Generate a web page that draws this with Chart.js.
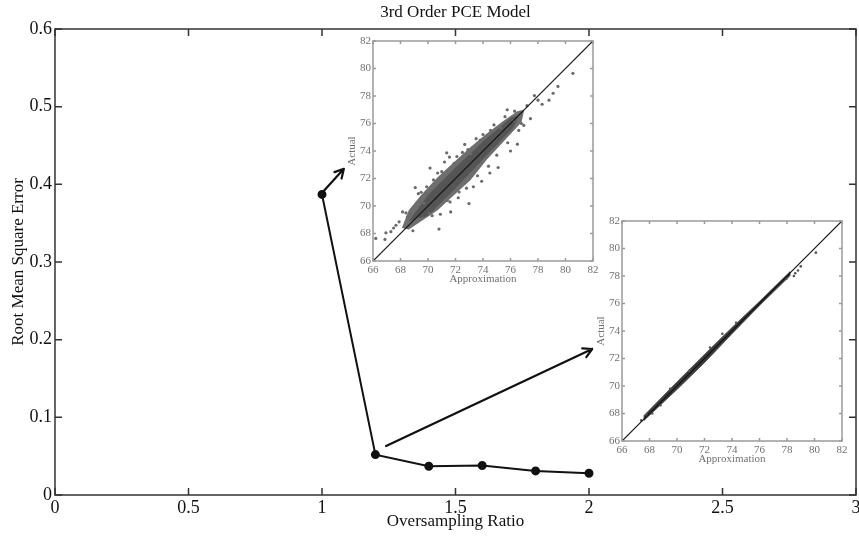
<!DOCTYPE html>
<html>
<head>
<meta charset="utf-8">
<script src="https://cdn.jsdelivr.net/npm/chart.js@4/dist/chart.umd.min.js"></script>
<style>
  html, body { margin: 0; padding: 0; background: #fff; }
  #wrap { position: relative; width: 859px; height: 537px; }
  canvas { position: absolute; }
  #main { left: 0; top: 0; }
  #inset1 { left: 340px; top: 35px; }
  #inset2 { left: 589px; top: 215px; }
</style>
</head>
<body>
<div id="wrap">
  <canvas id="main" width="859" height="537"></canvas>
  <canvas id="inset1" width="262" height="252"></canvas>
  <canvas id="inset2" width="262" height="252"></canvas>
</div>
<script>
// main curve
const ratio = [1, 1.2, 1.4, 1.6, 1.8, 2];
const rmse = [0.387, 0.052, 0.037, 0.038, 0.031, 0.028];
const ratioTicks = [0, 0.5, 1, 1.5, 2, 2.5, 3];
const rmseTicks = [0, 0.1, 0.2, 0.3, 0.4, 0.5, 0.6];

// arrows pointing at the insets (main chart data coords)
const arrowFrom = [[1.003, 0.39], [1.24, 0.063]];
const arrowTo = [[1.082, 0.42], [2.012, 0.188]];

// insets share the same axes
const insetTicks = [66, 68, 70, 72, 74, 76, 78, 80, 82];
const diagonal = [66, 82];

// inset 1 (low oversampling): cloud outline, dense core, loose points
const cloudX = [68.1, 68.6, 69.5, 70.7, 71.9, 73.1, 74.3, 75.5, 76.5, 77.0, 76.8, 75.5, 74.3, 73.1, 71.9, 70.7, 69.5, 68.6, 68.1];
const cloudY = [68.4, 69.7, 70.8, 72.1, 73.2, 74.3, 75.3, 76.2, 76.9, 77.0, 76.1, 74.7, 73.4, 71.9, 70.8, 69.7, 68.9, 68.3, 68.4];
const coreX = [68.6, 70, 72, 74, 76, 76.6, 76.2, 74, 72, 70, 68.6];
const coreY = [68.9, 70.8, 72.8, 74.7, 76.4, 76.6, 75.7, 73.4, 71.3, 69.3, 68.9];
const looseX = [69.07, 69.5, 70.15, 71.36, 71.56, 72.67, 72.9, 75.76, 77.74, 78.3, 78.8, 79.1, 79.45, 80.54, 77.45, 76.97, 76.6,
  72.98, 72.26, 71.65, 70.8, 70.08, 69.24, 68.15, 67.67, 67.3, 66.94, 66.87, 66.2, 67.9, 68.75, 69.7, 71.4, 73.3, 73.9,
  74.5, 75.1, 76.0, 76.5, 70.7, 71.9, 73.1, 73.8, 74.55, 75.3, 76.2, 78.0, 77.2, 68.5, 69.9,
  69.3, 69.9, 70.4, 71.0, 71.2, 72.1, 72.5, 73.5, 74.0, 74.8, 75.6, 76.3, 68.9, 70.3, 70.9, 71.6, 72.2, 72.8, 73.6, 74.4,
  75.0, 75.8, 76.8, 67.5, 68.4];
const looseY = [71.34, 71.0, 72.76, 73.87, 73.56, 74.48, 74.1, 77.0, 78.03, 77.4, 77.7, 78.2, 78.7, 79.65, 76.35, 75.86, 75.5,
  70.18, 71.02, 69.57, 68.32, 69.45, 69.09, 69.57, 68.6, 68.13, 68.05, 67.57, 67.64, 68.85, 69.45, 70.2, 70.4, 71.4, 71.8,
  72.4, 72.8, 74.0, 74.5, 72.4, 73.1, 73.8, 74.8, 75.5, 75.7, 76.2, 77.7, 77.3, 69.2, 70.9,
  70.9, 71.4, 71.9, 72.5, 73.2, 73.6, 73.9, 74.9, 75.2, 75.9, 76.5, 76.9, 68.2, 69.3, 69.4, 70.3, 70.6, 71.3, 72.2, 72.9,
  73.7, 74.6, 76.0, 68.4, 69.5];

// inset 2 (high oversampling): thin band along the diagonal, few strays
const bandX = [67.6, 70, 72, 74, 76, 78.2, 78.2, 76, 74, 72, 70, 67.6, 67.6];
const bandY = [67.85, 70.3, 72.3, 74.25, 76.15, 78.3, 78.0, 75.85, 73.8, 71.7, 69.75, 67.5, 67.85];
const strayX = [80.1, 78.8, 78.6, 78.5, 77.95, 74.3, 67.8, 67.4, 68.2, 72.4, 73.3, 70.9, 69.5, 68.8, 79.0];
const strayY = [79.7, 78.4, 78.2, 78.0, 77.8, 74.6, 67.9, 67.5, 68.0, 72.8, 73.8, 71.1, 69.8, 68.6, 78.7];

const serif = "'Liberation Serif', 'DejaVu Serif', serif";
const pts = (xs, ys) => xs.map((x, i) => ({ x: x, y: ys[i] }));
const plain = v => String(v);

function frame(color, width, tickLen) {
  return {
    id: 'frame',
    afterDatasetsDraw(chart) {
      const { ctx, chartArea: a, scales } = chart;
      ctx.save();
      ctx.strokeStyle = color;
      ctx.lineWidth = width;
      ctx.strokeRect(a.left, a.top, a.right - a.left, a.bottom - a.top);
      ctx.beginPath();
      scales.x.ticks.forEach(t => {
        const p = scales.x.getPixelForValue(t.value);
        ctx.moveTo(p, a.bottom); ctx.lineTo(p, a.bottom - tickLen);
        ctx.moveTo(p, a.top); ctx.lineTo(p, a.top + tickLen);
      });
      scales.y.ticks.forEach(t => {
        const p = scales.y.getPixelForValue(t.value);
        ctx.moveTo(a.left, p); ctx.lineTo(a.left + tickLen, p);
        ctx.moveTo(a.right, p); ctx.lineTo(a.right - tickLen, p);
      });
      ctx.stroke();
      ctx.restore();
    }
  };
}

const arrows = {
  id: 'arrows',
  afterDatasetsDraw(chart) {
    const { ctx, scales: { x, y } } = chart;
    ctx.save();
    ctx.strokeStyle = '#111';
    ctx.lineWidth = 2.2;
    ctx.lineCap = 'round';
    arrowFrom.forEach((f, i) => {
      const x0 = x.getPixelForValue(f[0]), y0 = y.getPixelForValue(f[1]);
      const x1 = x.getPixelForValue(arrowTo[i][0]), y1 = y.getPixelForValue(arrowTo[i][1]);
      const ang = Math.atan2(y1 - y0, x1 - x0);
      ctx.beginPath();
      ctx.moveTo(x0, y0); ctx.lineTo(x1, y1);
      [0.5, -0.5].forEach(d => {
        ctx.moveTo(x1, y1);
        ctx.lineTo(x1 - 10 * Math.cos(ang + d), y1 - 10 * Math.sin(ang + d));
      });
      ctx.stroke();
    });
    ctx.restore();
  }
};

new Chart(document.getElementById('main'), {
  type: 'line',
  data: {
    datasets: [{
      data: pts(ratio, rmse),
      borderColor: '#111',
      backgroundColor: '#111',
      borderWidth: 2,
      pointRadius: 3.5,
      tension: 0
    }]
  },
  options: {
    responsive: false,
    animation: false,
    layout: { autoPadding: false, padding: { right: 3 } },
    plugins: {
      legend: { display: false },
      tooltip: { enabled: false },
      title: {
        display: true,
        text: '3rd Order PCE Model',
        fullSize: false,
        color: '#111',
        font: { family: serif, size: 17, weight: 'normal', lineHeight: 1.2 },
        padding: { top: 2, bottom: 6.6 }
      }
    },
    scales: {
      x: {
        type: 'linear', min: 0, max: 3,
        afterBuildTicks: s => { s.ticks = ratioTicks.map(v => ({ value: v })); },
        afterFit: s => { s.height = 42; s.paddingLeft = 0; s.paddingRight = 0; },
        grid: { display: false, drawTicks: false }, border: { display: false },
        ticks: { color: '#111', padding: 2, autoSkip: false, maxRotation: 0, callback: plain, font: { family: serif, size: 18 } },
        title: { display: true, text: 'Oversampling Ratio', color: '#111', padding: { top: 0, bottom: 5 }, font: { family: serif, size: 17 } }
      },
      y: {
        type: 'linear', min: 0, max: 0.6,
        afterBuildTicks: s => { s.ticks = rmseTicks.map(v => ({ value: v })); },
        afterFit: s => { s.width = 55; s.paddingTop = 0; s.paddingBottom = 0; },
        grid: { display: false, drawTicks: false }, border: { display: false },
        ticks: { color: '#111', padding: 3, autoSkip: false, callback: plain, font: { family: serif, size: 18 } },
        title: { display: true, text: 'Root Mean Square Error', color: '#111', padding: { top: 8, bottom: 0 }, font: { family: serif, size: 17 } }
      }
    }
  },
  plugins: [frame('#333', 1.5, 7), arrows]
});

function inset(id, datasets) {
  const gray = '#707070';
  const tickFont = { family: serif, size: 11 };
  new Chart(document.getElementById(id), {
    type: 'line',
    data: {
      datasets: [{
        data: pts(diagonal, diagonal),
        borderColor: '#111', borderWidth: 1.2, pointRadius: 0, tension: 0
      }].concat(datasets)
    },
    options: {
      responsive: false,
      animation: false,
      layout: { autoPadding: false, padding: { top: 6, right: 9 } },
      plugins: { legend: { display: false }, tooltip: { enabled: false } },
      scales: {
        x: {
          type: 'linear', min: 66, max: 82,
          afterBuildTicks: s => { s.ticks = insetTicks.map(v => ({ value: v })); },
          afterFit: s => { s.height = 26; s.paddingLeft = 0; s.paddingRight = 0; },
          grid: { display: false, drawTicks: false }, border: { display: false },
          ticks: { color: gray, padding: 3, autoSkip: false, maxRotation: 0, callback: plain, font: tickFont },
          title: { display: true, text: 'Approximation', color: gray, padding: { top: 0, bottom: 1 }, font: tickFont }
        },
        y: {
          type: 'linear', min: 66, max: 82,
          afterBuildTicks: s => { s.ticks = insetTicks.map(v => ({ value: v })); },
          afterFit: s => { s.width = 33; s.paddingTop = 0; s.paddingBottom = 0; },
          grid: { display: false, drawTicks: false }, border: { display: false },
          ticks: { color: gray, padding: 2, autoSkip: false, callback: plain, font: tickFont },
          title: { display: true, text: 'Actual', color: gray, padding: { top: 6, bottom: 0 }, font: tickFont }
        }
      }
    },
    plugins: [frame('#9a9a9a', 1.5, 3)]
  });
}

inset('inset1', [
  { data: pts(looseX, looseY), showLine: false, pointRadius: 1.6, pointBorderWidth: 0, pointBackgroundColor: '#6a6a6a' },
  { data: pts(coreX, coreY), borderWidth: 0, pointRadius: 0, tension: 0, fill: 'shape', backgroundColor: '#555' },
  { data: pts(cloudX, cloudY), borderWidth: 0, pointRadius: 0, tension: 0, fill: 'shape', backgroundColor: '#6e6e6e' }
]);

inset('inset2', [
  { data: pts(strayX, strayY), showLine: false, pointRadius: 1.3, pointBorderWidth: 0, pointBackgroundColor: '#555' },
  { data: pts(bandX, bandY), borderWidth: 0.8, borderColor: '#444', pointRadius: 0, tension: 0, fill: 'shape', backgroundColor: '#3a3a3a' }
]);
</script>
</body>
</html>
